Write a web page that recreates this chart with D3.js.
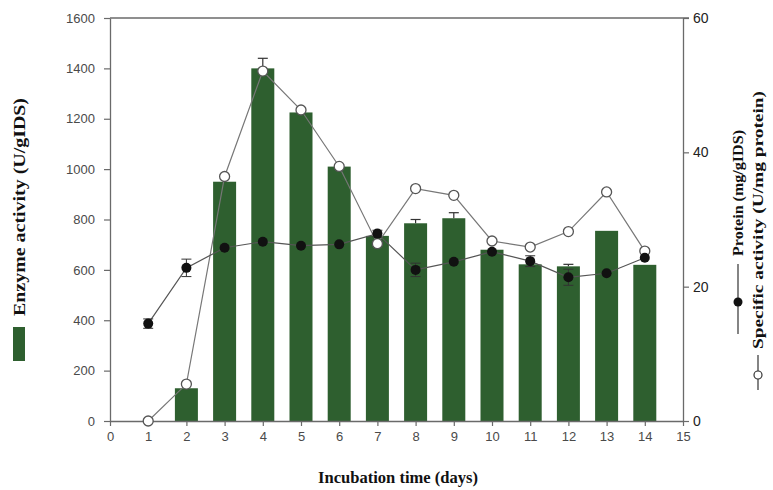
<!DOCTYPE html>
<html><head><meta charset="utf-8">
<script src="https://cdn.jsdelivr.net/npm/d3@7"></script>
<style>body{margin:0;background:#fff}svg{display:block}</style>
</head><body>
<svg id="chart" width="773" height="490"></svg>
<script>
const days = [1,2,3,4,5,6,7,8,9,10,11,12,13,14];
const enzyme = [0,130,950,1400,1225,1010,735,785,805,680,622,614,755,620];
const enzymeErr = [0,0,0,40,0,0,0,15,22,0,0,8,0,0];
const protein = [14.5,22.8,25.8,26.7,26.1,26.3,27.9,22.5,23.7,25.2,23.8,21.4,22.0,24.3];
const proteinErr = [0.7,1.3,0,0,0,0,0.5,1.0,0,0,0.8,1.2,0,0];
const specific = [0,5.5,36.4,52.1,46.3,37.9,26.4,34.6,33.6,26.8,25.9,28.2,34.1,25.3];
const xTicks = d3.range(0,16);
const yLeftTicks = [0,200,400,600,800,1000,1200,1400,1600];
const yRightTicks = [0,20,40,60];

const svg = d3.select("#chart");
const L = 110, R = 683, T = 18, B = 421;
const x = d3.scaleLinear().domain([0,15]).range([L,R]);
const yL = d3.scaleLinear().domain([0,1600]).range([B,T]);
const yR = d3.scaleLinear().domain([0,60]).range([B,T]);
const green = "#2e5f2f", axisCol = "#6a6a6a", tickTxt = "#4a4a4a";
const bw = 23;

// bars
svg.append("g").selectAll("rect").data(days.map((d,i)=>({d,v:enzyme[i]})).filter(o=>o.v>0))
  .join("rect").attr("x",o=>x(o.d)-bw/2).attr("width",bw)
  .attr("y",o=>yL(o.v)).attr("height",o=>yL(0)-yL(o.v)).attr("fill",green);
// bar error bars
const eb = svg.append("g").attr("stroke","#333").attr("stroke-width",1.2);
days.forEach((d,i)=>{ if(enzymeErr[i]>0){
  eb.append("line").attr("x1",x(d)).attr("x2",x(d)).attr("y1",yL(enzyme[i])).attr("y2",yL(enzyme[i]+enzymeErr[i]));
  eb.append("line").attr("x1",x(d)-5).attr("x2",x(d)+5).attr("y1",yL(enzyme[i]+enzymeErr[i])).attr("y2",yL(enzyme[i]+enzymeErr[i]));
}});

// axes
const fmt = d3.format("d");
const gx = svg.append("g").attr("transform",`translate(0,${B})`)
  .call(d3.axisBottom(x).tickValues(xTicks).tickFormat(fmt).tickSize(5).tickSizeOuter(0).tickPadding(6));
const gl = svg.append("g").attr("transform",`translate(${L},0)`)
  .call(d3.axisLeft(yL).tickValues(yLeftTicks).tickFormat(fmt).tickSize(6).tickSizeOuter(0).tickPadding(9));
const gr = svg.append("g").attr("transform",`translate(${R},0)`)
  .call(d3.axisRight(yR).tickValues(yRightTicks).tickFormat(fmt).tickSize(6).tickSizeOuter(0).tickPadding(4));
[gx,gl,gr].forEach(g=>{
  g.select(".domain").attr("stroke",axisCol).attr("stroke-width",1.3);
  g.selectAll(".tick line").attr("stroke",axisCol).attr("stroke-width",1.2);
  g.selectAll(".tick text").attr("fill",tickTxt).attr("font-family","Liberation Sans, Arial, sans-serif").attr("font-size",13);
});
gr.selectAll(".tick text").attr("fill","#222").attr("font-size",14);
// top frame
svg.append("line").attr("x1",L).attr("x2",R+6).attr("y1",T).attr("y2",T).attr("stroke",axisCol).attr("stroke-width",1.3);

// lines
const line = (arr,sc)=>d3.line().x((v,i)=>x(days[i])).y(v=>sc(v))(arr);
svg.append("path").attr("d",line(specific,yR)).attr("fill","none").attr("stroke","#777").attr("stroke-width",1.2);
svg.append("path").attr("d",line(protein,yR)).attr("fill","none").attr("stroke","#555").attr("stroke-width",1.2);
// protein error bars
const pe = svg.append("g").attr("stroke","#333").attr("stroke-width",1);
days.forEach((d,i)=>{ if(proteinErr[i]>0){
  const a=yR(protein[i]-proteinErr[i]), b=yR(protein[i]+proteinErr[i]);
  pe.append("line").attr("x1",x(d)).attr("x2",x(d)).attr("y1",a).attr("y2",b);
  pe.append("line").attr("x1",x(d)-5).attr("x2",x(d)+5).attr("y1",a).attr("y2",a);
  pe.append("line").attr("x1",x(d)-5).attr("x2",x(d)+5).attr("y1",b).attr("y2",b);
}});
svg.append("g").selectAll("circle").data(specific).join("circle")
  .attr("cx",(v,i)=>x(days[i])).attr("cy",v=>yR(v)).attr("r",5)
  .attr("fill","#fff").attr("stroke","#555").attr("stroke-width",1.3);
svg.append("g").selectAll("circle").data(protein).join("circle")
  .attr("cx",(v,i)=>x(days[i])).attr("cy",v=>yR(v)).attr("r",5)
  .attr("fill","#111");

// titles
const serif = "Liberation Serif, Times New Roman, serif";
svg.append("text").attr("x",398).attr("y",483).attr("text-anchor","middle")
  .attr("font-family",serif).attr("font-weight","bold").attr("font-size",16).attr("fill","#111")
  .attr("textLength",160).attr("lengthAdjust","spacingAndGlyphs")
  .text("Incubation time (days)");
svg.append("rect").attr("x",13).attr("y",327).attr("width",12).attr("height",34).attr("fill",green);
svg.append("text").attr("transform","translate(25,207) rotate(-90)").attr("text-anchor","middle")
  .attr("font-family",serif).attr("font-weight","bold").attr("font-size",17).attr("fill","#111")
  .attr("textLength",218).attr("lengthAdjust","spacingAndGlyphs")
  .text("Enzyme activity (U/gIDS)");
// right legend
svg.append("text").attr("transform","translate(743,193) rotate(-90)").attr("text-anchor","middle")
  .attr("font-family",serif).attr("font-weight","bold").attr("font-size",15).attr("fill","#111")
  .attr("textLength",126).attr("lengthAdjust","spacingAndGlyphs")
  .text("Protein (mg/gIDS)");
svg.append("line").attr("x1",738).attr("x2",738).attr("y1",264).attr("y2",334).attr("stroke","#333").attr("stroke-width",1.2);
svg.append("circle").attr("cx",738).attr("cy",302).attr("r",4.5).attr("fill","#111");
svg.append("text").attr("transform","translate(763,220) rotate(-90)").attr("text-anchor","middle")
  .attr("font-family",serif).attr("font-weight","bold").attr("font-size",15).attr("fill","#111")
  .attr("textLength",258).attr("lengthAdjust","spacingAndGlyphs")
  .text("Specific activity (U/mg protein)");
svg.append("line").attr("x1",758).attr("x2",758).attr("y1",355).attr("y2",390).attr("stroke","#333").attr("stroke-width",1.2);
svg.append("circle").attr("cx",758).attr("cy",375).attr("r",4).attr("fill","#fff").attr("stroke","#333").attr("stroke-width",1.2);
</script>
</body></html>
